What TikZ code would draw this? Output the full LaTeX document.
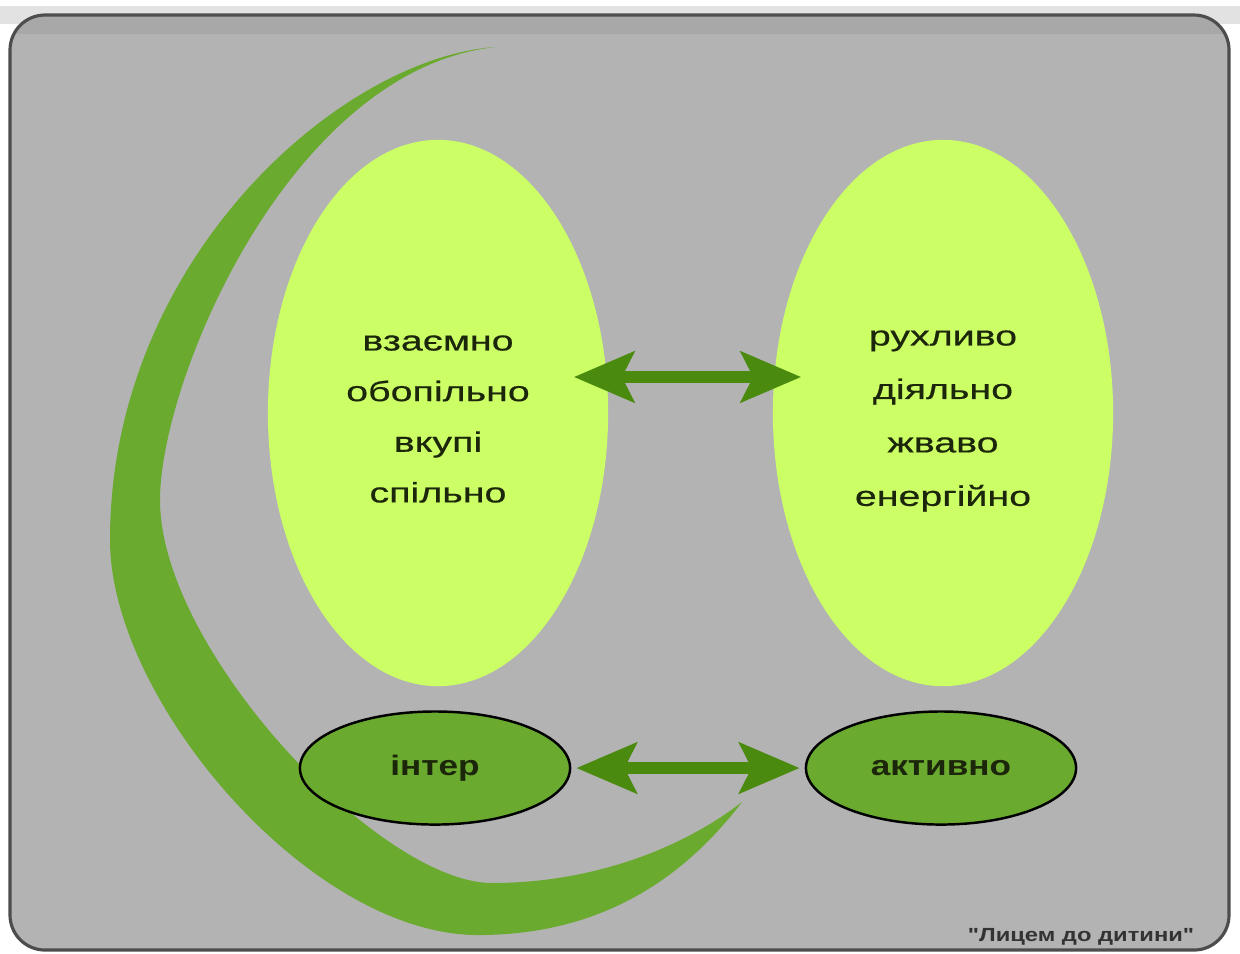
\documentclass[tikz,border=0pt]{standalone}
\usepackage{fontspec}
\setmainfont{Liberation Sans}[FakeStretch=1.25]
\newfontfamily\widefont{Liberation Sans}[FakeStretch=1.4,FakeBold=0.5]
\newfontfamily\creditfont{Liberation Sans Bold}[FakeStretch=1.25,Ligatures=TeXOff]
\usetikzlibrary{arrows.meta,shapes.geometric}
\definecolor{panel}{RGB}{179,179,179}
\definecolor{topband}{RGB}{168,168,168}
\definecolor{strip}{RGB}{226,226,226}
\definecolor{edge}{RGB}{77,77,77}
\definecolor{lime}{RGB}{204,255,102}
\definecolor{leaf}{RGB}{106,170,46}
\definecolor{arrowgreen}{RGB}{74,138,14}
\definecolor{ink}{RGB}{28,38,10}
\begin{document}
\begin{tikzpicture}[x=0.01cm,y=-0.01cm,
	big/.style={ellipse,fill=lime,minimum width=3.4cm,minimum height=5.46cm,inner sep=0},
	words/.style={align=center,text=ink,inner sep=0,font=\widefont\fontsize{8}{#1}\selectfont},
	small/.style={ellipse,draw=black,line width=0.7pt,fill=leaf,minimum width=2.7cm,
		minimum height=1.13cm,inner sep=0,text=ink,font=\bfseries\fontsize{8}{10}\selectfont},
	twoway/.style={{Stealth[length=6mm,width=5mm,inset=1.2mm]}-{Stealth[length=6mm,width=5mm,inset=1.2mm]},
		line width=1.2mm,draw=arrowgreen}]
\useasboundingbox (0,0) rectangle (1240,953);
\fill[white] (0,0) rectangle (1240,953);
\fill[strip] (0,6) rectangle (1240,24);
\begin{scope}
\clip[rounded corners=0.35cm] (10,15) rectangle (1229,950);
\fill[panel] (10,15) rectangle (1229,950);
\fill[topband] (10,15) rectangle (1229,34);
\end{scope}
\draw[edge,line width=0.9pt,rounded corners=0.35cm] (10,15) rectangle (1229,950);
\fill[leaf] (495,47) .. controls (340,58) and (110,260) .. (110,540)
	.. controls (110,700) and (310,935) .. (478,935)
	.. controls (610,935) and (690,870) .. (742,802)
	.. controls (680,850) and (590,883) .. (492,883)
	.. controls (380,883) and (160,650) .. (160,500)
	.. controls (160,380) and (290,70) .. (495,47) -- cycle;
\node[big] (mutual) at (438,413) {};
\node[big] (lively) at (943,413) {};
\node[words=14.4pt] (mutualtext) at (438,419) {взаємно\\обопільно\\вкупі\\спільно};
\node[words=15.2pt] (livelytext) at (943,421) {рухливо\\діяльно\\жваво\\енергійно};
\node[small] (inter) at (435,768) {інтер};
\node[small] (activ) at (941,768) {активно};
\draw[twoway] ([xshift=-0.35cm,yshift=0.36cm]mutual.east) -- ([xshift=0.29cm,yshift=0.36cm]lively.west);
\draw[twoway] ([xshift=0.05cm]inter.east) -- ([xshift=-0.05cm]activ.west);
\node[text=black!80,font=\creditfont\fontsize{5.4}{7}\selectfont] (credit) at (1081,937) {"Лицем до дитини"};
\end{tikzpicture}
\end{document}
